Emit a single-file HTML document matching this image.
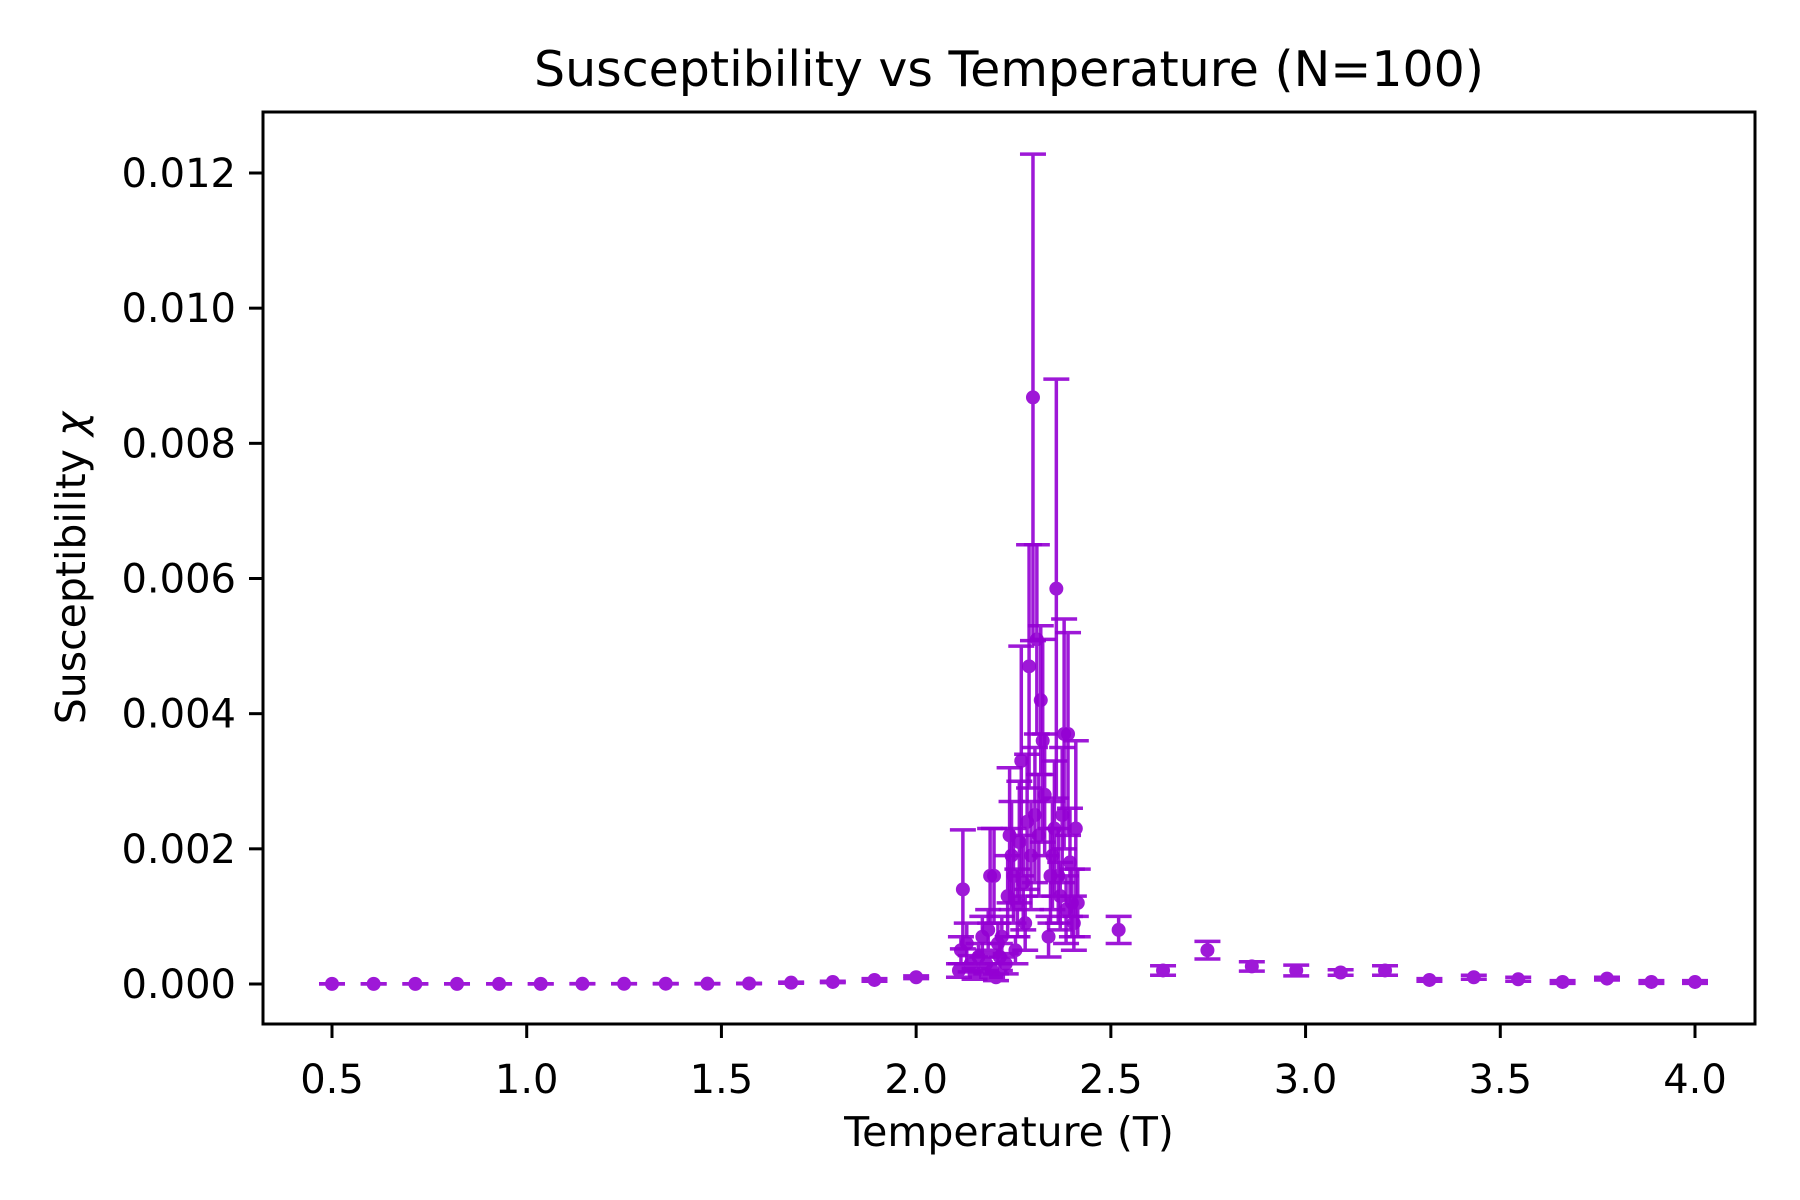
<!DOCTYPE html>
<html><head><meta charset="utf-8"><style>
html,body{margin:0;padding:0;background:#fff}
svg{display:block;font-family:"DejaVu Sans","Liberation Sans",sans-serif}
</style></head><body>
<svg id="chart" width="1800" height="1200" viewBox="0 0 1800 1200">
<text x="1009" y="86" text-anchor="middle" font-size="49">Susceptibility vs Temperature (N=100)</text>
<text x="1009" y="1146" text-anchor="middle" font-size="41">Temperature (T)</text>
<text x="0" y="0" transform="translate(85,568) rotate(-90)" text-anchor="middle" font-size="41">Susceptibility <tspan font-style="italic">χ</tspan></text>
<g id="marks"></g>
<g id="xticks"></g>
<g id="yticks"></g>
<rect x="263" y="112" width="1492" height="912" fill="none" stroke="#000" stroke-width="3"/>
</svg>
<script>
const temps = [0.5,0.607,0.714,0.821,0.929,1.036,1.143,1.25,1.357,1.464,1.571,1.679,1.786,1.893,2.0,
 2.11,2.115,2.12,2.13,2.14,2.15,2.16,2.17,2.18,2.185,2.19,2.195,2.2,2.205,2.21,2.215,2.22,2.23,2.235,2.24,2.245,2.25,2.255,2.26,2.265,2.27,2.275,2.28,2.285,2.29,2.295,2.3,2.305,2.31,2.315,2.32,2.325,2.33,2.34,2.345,2.35,2.355,2.36,2.365,2.37,2.375,2.38,2.385,2.39,2.395,2.4,2.405,2.41,2.415,
 2.52,2.634,2.748,2.862,2.976,3.09,3.204,3.318,3.432,3.546,3.66,3.774,3.888,4.0];
const chi = [0.000002,0.000002,0.000002,0.000002,0.000002,0.000002,0.000003,0.000003,0.000004,0.000005,0.000008,0.00002,0.00003,0.00006,0.0001,
 0.0002,0.0005,0.0014,0.0006,0.0003,0.00015,0.0004,0.0007,0.0003,0.0008,0.0016,0.0002,0.0016,0.0001,0.0006,0.0004,0.0007,0.0003,0.0013,0.0022,0.0019,0.0016,0.0005,0.0012,0.0021,0.0033,0.0015,0.0009,0.0024,0.0047,0.0019,0.00868,0.0025,0.0051,0.0022,0.0042,0.0036,0.0028,0.0007,0.0016,0.0019,0.0023,0.00585,0.0016,0.0013,0.0025,0.0037,0.0011,0.0037,0.0018,0.0012,0.0009,0.0023,0.0012,
 0.0008,0.0002,0.0005,0.00026,0.0002,0.00017,0.0002,0.00006,0.0001,0.00007,0.00003,0.00008,0.00003,0.00003];
const errs = [0.000002,0.000002,0.000002,0.000002,0.000002,0.000002,0.000002,0.000002,0.000003,0.000003,0.000004,0.000008,0.00001,0.00002,0.00002,
 0.0001,0.0002,0.00088,0.0003,0.00012,0.00008,0.0002,0.0003,0.00015,0.0003,0.0007,0.0001,0.0007,0.00005,0.0003,0.0002,0.0003,0.00015,0.0006,0.001,0.0008,0.0007,0.0002,0.0005,0.0009,0.0017,0.0007,0.0004,0.001,0.0018,0.0008,0.0036,0.001,0.0014,0.0009,0.0011,0.0015,0.0009,0.0003,0.0007,0.0008,0.001,0.0031,0.0007,0.0005,0.001,0.0017,0.0005,0.0015,0.0008,0.0005,0.0004,0.0013,0.0005,
 0.0002,0.00007,0.00013,0.00007,0.00008,0.00004,0.00007,0.00002,0.00003,0.00003,0.00002,0.00002,0.00002,0.00002];
const xTickVals = [0.5,1.0,1.5,2.0,2.5,3.0,3.5,4.0];
const xTickLabels = ["0.5","1.0","1.5","2.0","2.5","3.0","3.5","4.0"];
const yTickVals = [0,0.002,0.004,0.006,0.008,0.010,0.012];
const yTickLabels = ["0.000","0.002","0.004","0.006","0.008","0.010","0.012"];

const NS='http://www.w3.org/2000/svg';
function xs(t){return 332+(t-0.5)*(1695-332)/3.5;}
function ys(v){return 984-v*(984-173)/0.012;}
function mk(tag,attrs,parent){const e=document.createElementNS(NS,tag);for(const k in attrs)e.setAttribute(k,attrs[k]);parent.appendChild(e);return e;}
const marks=document.getElementById('marks');
const col='#9400d3';
for(let i=0;i<temps.length;i++){
  const g=mk('g',{opacity:0.9},marks);
  
  
  const x=xs(temps[i]),y1=ys(chi[i]-errs[i]),y2=ys(chi[i]+errs[i]),y=ys(chi[i]);
  mk('line',{x1:x,x2:x,y1:y1,y2:y2,stroke:col,'stroke-width':3.5},g);
  mk('line',{x1:x-13,x2:x+13,y1:y1,y2:y1,stroke:col,'stroke-width':3.5},g);
  mk('line',{x1:x-13,x2:x+13,y1:y2,y2:y2,stroke:col,'stroke-width':3.5},g);
  mk('circle',{cx:x,cy:y,r:7,fill:col},g);
}
const xt=document.getElementById('xticks');
xTickVals.forEach((v,i)=>{
  const x=xs(v);
  const l=mk('line',{x1:x,x2:x,y1:1024,y2:1038,stroke:'#000','stroke-width':3},xt);
  
  
  const t=mk('text',{x:x,y:1093,'text-anchor':'middle','font-size':40},xt);
  
  
  t.textContent=xTickLabels[i];
});
const yt=document.getElementById('yticks');
yTickVals.forEach((v,i)=>{
  const y=ys(v);
  const l=mk('line',{x1:249,x2:263,y1:y,y2:y,stroke:'#000','stroke-width':3},yt);
  
  
  const t=mk('text',{x:236,y:y+14,'text-anchor':'end','font-size':40},yt);
  
  
  t.textContent=yTickLabels[i];
});
</script>
</body></html>
